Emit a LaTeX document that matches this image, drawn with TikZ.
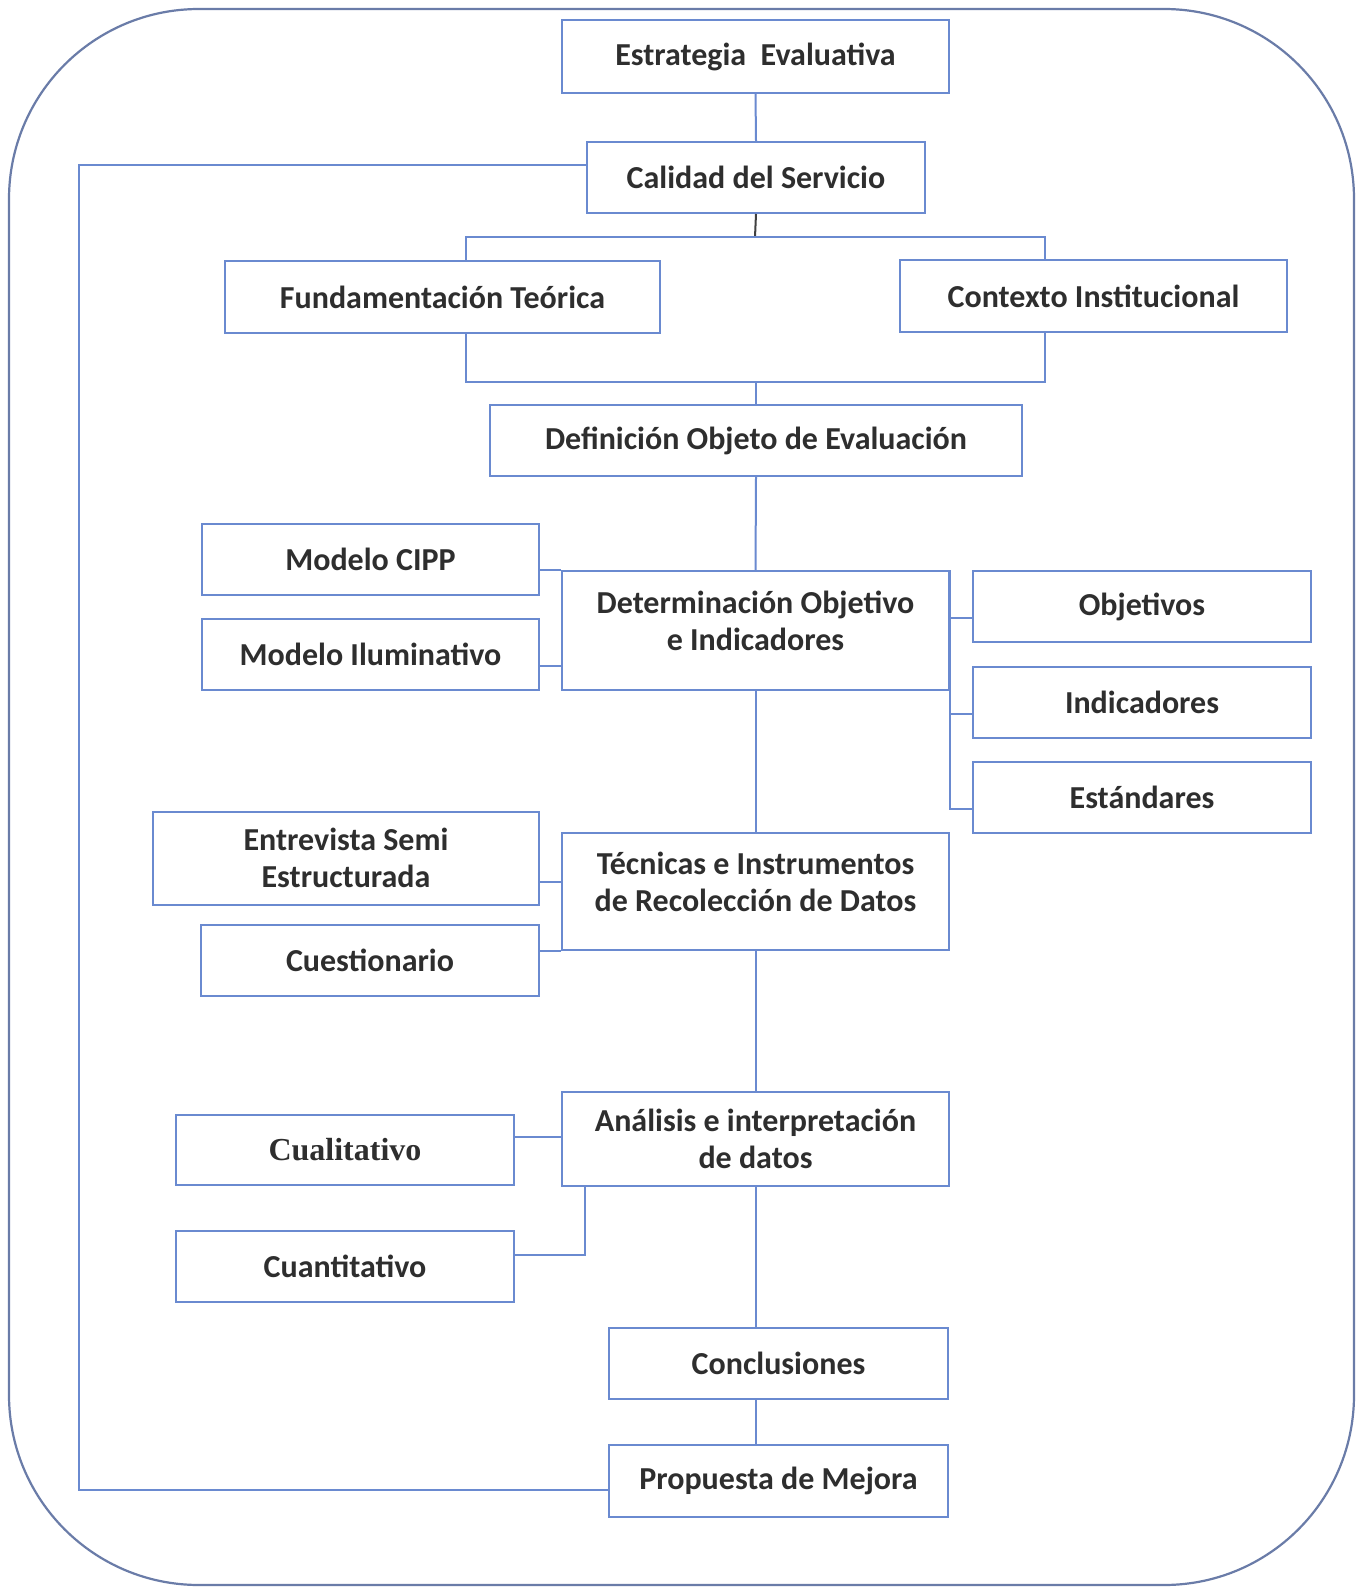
\documentclass[tikz,border=0pt]{standalone}
\usepackage{fontspec}
\setmainfont{Carlito}
\newfontfamily\serifbold{Liberation Serif}
\begin{document}
\begin{tikzpicture}[x=1pt,y=-1pt,
  box/.style={draw=boxblue,line width=2pt,rectangle,inner sep=0pt,
    font=\fontsize{32}{37.5}\selectfont\bfseries,text=txt,align=center},
  lbl/.style={font=\fontsize{32}{37.5}\selectfont\bfseries,text=txt,align=center,inner sep=0pt},
  link/.style={draw=lineblue,line width=2pt},
  frame/.style={draw=framec,line width=2.2pt,rounded corners=190pt}]
\definecolor{boxblue}{HTML}{6A8AD0}
\definecolor{lineblue}{HTML}{6A8AD0}
\definecolor{framec}{HTML}{6A7CA8}
\definecolor{txt}{HTML}{2E2E2E}
\useasboundingbox (0,0) rectangle (1361,1589);
\fill[white] (0,0) rectangle (1361,1589);
\draw[frame] (9,9) rectangle (1354,1585);

% boxes
\node[box,minimum width=387,minimum height=73] (est) at (755.5,56.5) {Estrategia\ \ Evaluativa};
\node[box,minimum width=338,minimum height=71] (cal) at (756,177.5) {Calidad del Servicio};
\node[box,minimum width=435,minimum height=72] (fun) at (442.5,297) {Fundamentación Teórica};
\node[box,minimum width=387,minimum height=72] (con) at (1093.5,296) {Contexto Institucional};
\node[box,minimum width=532,minimum height=71] (def) at (756,440.5) {Definición Objeto de Evaluación};
\node[box,minimum width=337,minimum height=71] (cipp) at (370.5,559.5) {Modelo CIPP};
\node[box,minimum width=337,minimum height=71] (ilu) at (370.5,654.5) {Modelo Iluminativo};
\node[box,minimum width=387,minimum height=119] (det) at (755.5,630.5) {};
\node[lbl] (detl) at (755.5,621) {Determinación Objetivo\\e Indicadores};
\node[box,minimum width=338,minimum height=71] (obj) at (1142,606.5) {Objetivos};
\node[box,minimum width=338,minimum height=71] (ind) at (1142,702.5) {Indicadores};
\node[box,minimum width=338,minimum height=71] (estd) at (1142,797.5) {Estándares};
\node[box,minimum width=386,minimum height=93] (ent) at (346,858) {Entrevista Semi\\Estructurada};
\node[box,minimum width=387,minimum height=117] (tec) at (755.5,891.5) {};
\node[lbl] (tecl) at (755.5,882) {Técnicas e Instrumentos\\de Recolección de Datos};
\node[box,minimum width=338,minimum height=71] (cue) at (370,960.5) {Cuestionario};
\node[box,minimum width=387,minimum height=94] (ana) at (755.5,1139) {Análisis e interpretación\\de datos};
\node[box,minimum width=338,minimum height=70,font=\fontsize{32}{37.5}\serifbold\bfseries] (cual) at (345,1150) {Cualitativo};
\node[box,minimum width=338,minimum height=71] (cuan) at (345,1266.5) {Cuantitativo};
\node[box,minimum width=339,minimum height=71] (conc) at (778.5,1363.5) {Conclusiones};
\node[box,minimum width=339,minimum height=72] (prop) at (778.5,1481) {Propuesta de Mejora};

% branch points
\coordinate (b1) at (755,237);
\coordinate (bl) at (466,237);
\coordinate (br) at (1045,237);
\coordinate (ml) at (466,382);
\coordinate (mr) at (1045,382);
\coordinate (lb) at (79,1490);
\coordinate (lt) at (79,165);

% main trunk
\draw[link] (est.south) -- (cal.north);
\draw[line width=2pt,draw=black!75] (cal.south) -- (b1);
\draw[link] (bl |- fun.north) -- (bl) -- (br) -- (br |- con.north);
\draw[link] (ml |- fun.south) -- (ml) -- (mr) -- (mr |- con.south);
\draw[link] (def.north) -- (def.north |- ml);
\draw[link] (def.south) -- (det.north);
\draw[link] (det.south) -- (tec.north);
\draw[link] (tec.south) -- (ana.north);
\draw[link] (ana.south) -- (ana.south |- conc.north);
\draw[link] (conc.south -| ana.south) -- (prop.north -| ana.south);

% side branches
\draw[link] (det.north west) -- (det.north west -| cipp.east);
\draw[link] ([yshift=-11.5pt]ilu.east) -- ([yshift=-11.5pt]ilu.east -| det.west);
\draw[link] (det.north east) |- ([yshift=-11pt]estd.west);
\draw[link] ([yshift=-11pt]obj.west) -- ([yshift=-11pt]obj.west -| det.east);
\draw[link] ([yshift=-11pt]ind.west) -- ([yshift=-11pt]ind.west -| det.east);
\draw[link] ([yshift=-23.5pt]ent.east) -- ([yshift=-23.5pt]ent.east -| tec.west);
\draw[link] (tec.south west) -- (tec.south west -| cue.east);
\draw[link] ([yshift=13pt]cual.east) -- ([yshift=13pt]cual.east -| ana.west);
\draw[link] ([yshift=11.5pt]cuan.east) -| ([xshift=24pt]ana.south west);

% feedback loop
\draw[link] ([yshift=-9pt]prop.west) -- (lb) -- (lt) -- (lt -| cal.west);
\end{tikzpicture}
\end{document}
